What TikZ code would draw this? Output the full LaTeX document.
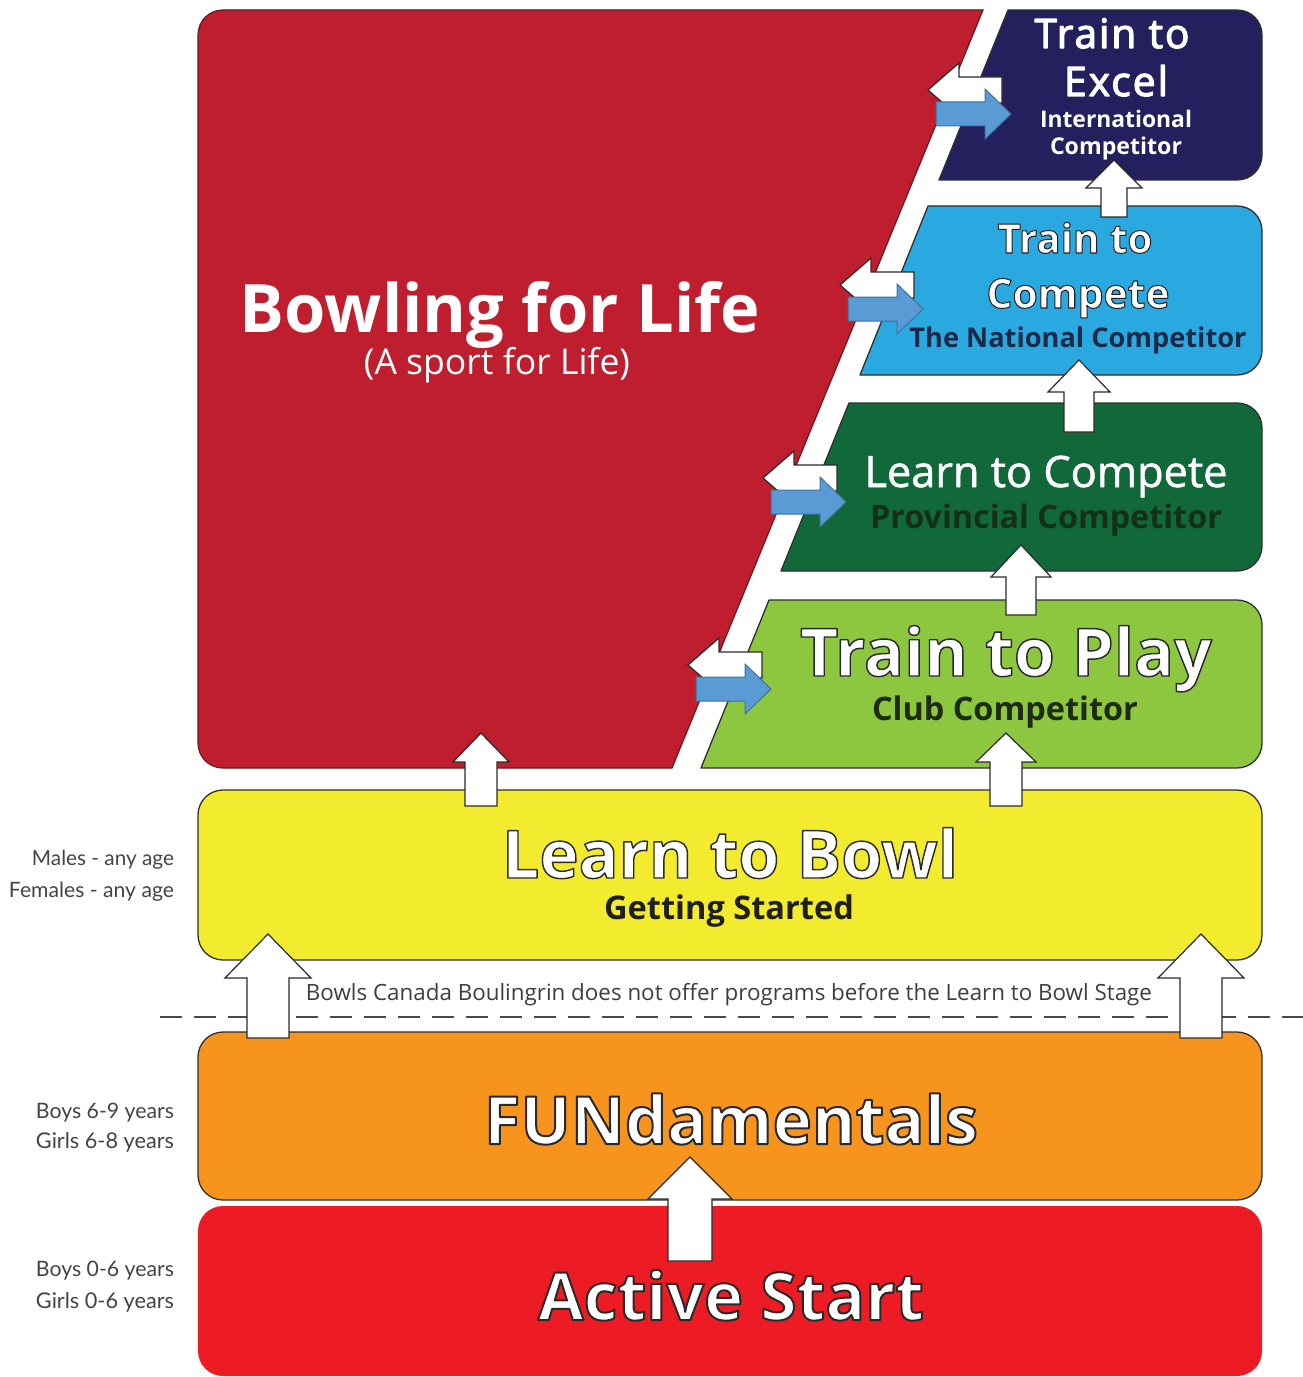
\documentclass[tikz,border=0pt]{standalone}
\usepackage{fontspec}
\usepackage{graphicx}
\setmainfont{Open Sans}
\newfontfamily\lblfont{Lato}
\definecolor{bflred}{HTML}{BE1E2D}
\definecolor{bfldraw}{HTML}{6A1A1E}
\definecolor{excelnavy}{HTML}{24205E}
\definecolor{ttcblue}{HTML}{29A9E0}
\definecolor{ltcgreen}{HTML}{11693A}
\definecolor{ttpgreen}{HTML}{8DC63F}
\definecolor{ltbyellow}{HTML}{F2EB2E}
\definecolor{funorange}{HTML}{F7941D}
\definecolor{asred}{HTML}{ED1C24}
\definecolor{boxline}{HTML}{2F2F2F}
\definecolor{arrline}{HTML}{2A2A2A}
\definecolor{arrblue}{HTML}{5B9BD5}
\definecolor{arrbluedraw}{HTML}{41719C}
\definecolor{natcol}{HTML}{1B2A48}
\definecolor{provcol}{HTML}{15301A}
\definecolor{clubcol}{HTML}{1E2B12}
\definecolor{getcol}{HTML}{1F1F1F}
\definecolor{notecol}{HTML}{3D3D48}
\definecolor{lblgray}{HTML}{454548}
\definecolor{dashcol}{HTML}{4A4A4A}
\newcommand\fw[2]{\resizebox{#1bp}{!}{#2}}
% text drawn with fill and stroke (render mode 2); #1 stroke width, #2 stroke rgb
\newcommand\outlined[3][1.8]{\special{pdf:literal direct #2 RG #1 w 1 j 2 Tr}#3\special{pdf:literal direct 0 Tr}}
\newcommand\UpArr[6]{\draw[upar] (#1-#5,#4) -- (#1-#5,#3) -- (#1-#6,#3) -- (#1,#2) -- (#1+#6,#3) -- (#1+#5,#3) -- (#1+#5,#4) -- cycle;}
\newcommand\LfArr[2]{\draw[upar] (#1,#2) -- (#1+31,#2-27) -- (#1+31,#2-13) -- (#1+74,#2-13) -- (#1+74,#2+13) -- (#1+31,#2+13) -- (#1+31,#2+27) -- cycle;}
\newcommand\RtArr[2]{\draw[bluear] (#1+8,#2+12) -- (#1+57,#2+12) -- (#1+57,#2-1) -- (#1+83,#2+24) -- (#1+57,#2+49) -- (#1+57,#2+36) -- (#1+8,#2+36) -- cycle;}
\tikzset{
  box/.style={draw=boxline, line width=1.3bp, line join=round},
  upar/.style={fill=white, draw=arrline, line width=1.2bp, line join=miter},
  bluear/.style={fill=arrblue, draw=arrbluedraw, line width=1bp},
  txt/.style={anchor=base, inner sep=0pt, outer sep=0pt},
  lbl/.style={anchor=base east, inner sep=0pt, outer sep=0pt, text=lblgray},
}
\begin{document}
\begin{tikzpicture}[x=1bp,y=-1bp]
\useasboundingbox (0,0) rectangle (1303,1377);
\fill[white] (0,0) rectangle (1303,1377);
% Bowling for Life
\draw[fill=bflred, draw=bfldraw, line width=1.2bp] (983,10) -- (672,768) -- (223,768) .. controls (209,768) and (198,757) .. (198,743) -- (198,35) .. controls (198,21) and (209,10) .. (223,10) -- cycle;
% slanted boxes
\draw[box, fill=excelnavy] (1008,10) -- (1237,10) .. controls (1251,10) and (1262,21) .. (1262,35) -- (1262,155) .. controls (1262,169) and (1251,180) .. (1237,180) -- (939,180) -- cycle;
\draw[box, fill=ttcblue] (928,206) -- (1237,206) .. controls (1251,206) and (1262,217) .. (1262,231) -- (1262,350) .. controls (1262,364) and (1251,375) .. (1237,375) -- (860,375) -- cycle;
\draw[box, fill=ltcgreen] (849,403) -- (1237,403) .. controls (1251,403) and (1262,414) .. (1262,428) -- (1262,546) .. controls (1262,560) and (1251,571) .. (1237,571) -- (781,571) -- cycle;
\draw[box, fill=ttpgreen] (769,600) -- (1237,600) .. controls (1251,600) and (1262,611) .. (1262,625) -- (1262,743) .. controls (1262,757) and (1251,768) .. (1237,768) -- (701,768) -- cycle;
% full width boxes
\draw[box, fill=ltbyellow, rounded corners=25bp] (198,790) rectangle (1262,960);
\draw[box, fill=funorange, rounded corners=25bp] (198,1032) rectangle (1262,1200);
\fill[asred, rounded corners=25bp] (198,1206) rectangle (1262,1376);
% dashed line
\coordinate (dashL) at (160,1017);
\coordinate (dashR) at (1303,1017);
\draw[dashcol, line width=1.6bp, dash pattern=on 22bp off 12bp] (dashL) -- (dashR);
% up arrows
\UpArr{690}{1157}{1199}{1261}{22}{42}
\UpArr{268}{934}{978}{1038}{21}{43}
\UpArr{1201}{934}{978}{1038}{21}{43}
\UpArr{481}{733}{762}{806}{16}{28}
\UpArr{1006}{733}{762}{806}{16}{30}
\UpArr{1021}{545}{577}{615}{15}{30}
\UpArr{1079}{360}{392}{432}{15}{31}
\UpArr{1114}{160}{188}{217}{13}{28}
% left / right arrows
\LfArr{928}{90}
\LfArr{840}{285}
\LfArr{763}{478}
\LfArr{688}{665}
\RtArr{928}{90}
\RtArr{840}{285}
\RtArr{763}{478}
\RtArr{688}{665}
% texts
\node[txt, text=white] (bfl) at (500,332) {\fw{520}{\fontsize{60}{60}\selectfont\bfseries Bowling for Life}};
\node[txt, text=white] (bfls) at (497,374) {\fw{266}{\fontsize{30}{30}\selectfont (A sport for Life)}};
\node[txt, text=white] (tte1) at (1112,48) {\fw{155}{\fontsize{36}{36}\selectfont\addfontfeatures{LetterSpace=5}\outlined[1.1]{1 1 1}{Train to}}};
\node[txt, text=white] (tte2) at (1116,96) {\fw{104}{\fontsize{36}{36}\selectfont\addfontfeatures{LetterSpace=5}\outlined[1.1]{1 1 1}{Excel}}};
\node[txt, text=white] (tte3) at (1116,128) {\fw{152}{\fontsize{22}{22}\selectfont\bfseries International}};
\node[txt, text=white] (tte4) at (1116,155) {\fw{132}{\fontsize{22}{22}\selectfont\bfseries Competitor}};
\node[txt, text=white] (ttc1) at (1075,253) {\fw{155}{\fontsize{40}{40}\selectfont\bfseries\outlined[1.0]{0.12 0.12 0.14}{Train to}}};
\node[txt, text=white] (ttc2) at (1078,308) {\fw{183}{\fontsize{40}{40}\selectfont\bfseries\outlined[1.0]{0.12 0.12 0.14}{Compete}}};
\node[txt, text=natcol] (ttc3) at (1078,347) {\fw{337}{\fontsize{27}{27}\selectfont\bfseries The National Competitor}};
\node[txt, text=white] (ltc1) at (1046,487) {\fw{363}{\fontsize{38}{38}\selectfont\outlined[0.5]{1 1 1}{Learn to Compete}}};
\node[txt, text=provcol] (ltc2) at (1046,528) {\fw{352}{\fontsize{30}{30}\selectfont\bfseries Provincial Competitor}};
\node[txt, text=white] (ttp1) at (1006,676) {\fw{412}{\fontsize{60}{60}\selectfont\bfseries\outlined[1.3]{0.16 0.16 0.16}{Train to Play}}};
\node[txt, text=clubcol] (ttp2) at (1005,720) {\fw{266}{\fontsize{30}{30}\selectfont\bfseries Club Competitor}};
\node[txt, text=white] (ltb1) at (730,878) {\fw{456}{\fontsize{60}{60}\selectfont\bfseries\outlined[1.3]{0.16 0.16 0.16}{Learn to Bowl}}};
\node[txt, text=getcol] (ltb2) at (729,919) {\fw{250}{\fontsize{30}{30}\selectfont\bfseries Getting Started}};
\node[txt, text=notecol] (note) at (729,1000) {\fw{846}{\fontsize{22}{22}\selectfont Bowls Canada Boulingrin does not offer programs before the Learn to Bowl Stage}};
\node[txt, text=white] (fun) at (731,1144) {\fw{494}{\fontsize{60}{60}\selectfont\bfseries\outlined[1.8]{0.16 0.16 0.16}{FUNdamentals}}};
\node[txt, text=white] (as) at (731,1320) {\fw{386}{\fontsize{60}{60}\selectfont\bfseries\outlined[1.8]{0.16 0.16 0.16}{Active Start}}};
% left labels
\node[lbl] (m1) at (174,865) {\fw{142}{\lblfont\fontsize{21}{21}\selectfont Males - any age}};
\node[lbl] (m2) at (174,897) {\fw{165}{\lblfont\fontsize{21}{21}\selectfont Females - any age}};
\node[lbl] (f1) at (174,1118) {\fw{138}{\lblfont\fontsize{21}{21}\selectfont Boys 6-9 years}};
\node[lbl] (f2) at (174,1148) {\fw{138}{\lblfont\fontsize{21}{21}\selectfont Girls 6-8 years}};
\node[lbl] (a1) at (174,1276) {\fw{138}{\lblfont\fontsize{21}{21}\selectfont Boys 0-6 years}};
\node[lbl] (a2) at (174,1308) {\fw{138}{\lblfont\fontsize{21}{21}\selectfont Girls 0-6 years}};
\end{tikzpicture}
\end{document}
